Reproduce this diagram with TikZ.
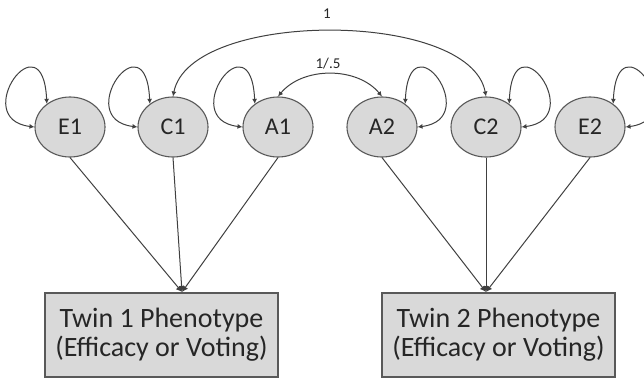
\documentclass[tikz,border=0pt]{standalone}
\usepackage{fontspec}
\setmainfont{Carlito}
\usetikzlibrary{shapes.geometric,arrows.meta}
\definecolor{nodefill}{HTML}{D9D9D9}
\definecolor{edgecol}{HTML}{595959}
\definecolor{linecol}{HTML}{404040}
\definecolor{txtcol}{HTML}{262626}
\begin{document}
\begin{tikzpicture}[x=1pt,y=-1pt,
  latent/.style={ellipse, draw=edgecol, fill=nodefill, line width=1.1pt, minimum width=70pt, minimum height=60pt, inner sep=0pt, font=\fontsize{24}{26}\selectfont, text=txtcol},
  pheno/.style={rectangle, draw=edgecol, fill=nodefill, line width=1.1pt, minimum width=233pt, minimum height=84pt, align=center, font=\fontsize{28}{29}\selectfont, text=txtcol},
  conn/.style={draw=linecol, line width=1pt},
  tip/.style={-{Latex[length=6pt,width=6pt]}},
  dbl/.style={{Latex[length=5pt,width=5pt]}-{Latex[length=5pt,width=5pt]}},
  lbl/.style={font=\fontsize{15}{17}\selectfont, text=txtcol, inner sep=1pt}
]
\useasboundingbox (0,0) rectangle (644,378);

\node[latent] (E1) at (70,127) {E1};
\node[latent] (C1) at (173,127) {C1};
\node[latent] (A1) at (278,127) {A1};
\node[latent] (A2) at (382,127) {A2};
\node[latent] (C2) at (486,127) {C2};
\node[latent] (E2) at (590,127) {E2};

\node[pheno] (P1) at (161.5,335) {Twin 1 Phenotype\\(Efficacy or Voting)};
\node[pheno] (P2) at (498.5,335) {Twin 2 Phenotype\\(Efficacy or Voting)};

\coordinate (j1) at (182,292);
\coordinate (j2) at (486,292);

% variance loops
\foreach \n in {E1,C1,A1}{
  \draw[conn,dbl] (\n.west) .. controls +(-66,-8) and +(-4,-88) .. (\n.135);
}
\foreach \n in {A2,C2,E2}{
  \draw[conn,dbl] (\n.east) .. controls +(66,-8) and +(4,-88) .. (\n.45);
}

% covariances
\draw[conn,dbl] (C1.north) .. controls +(17,-87) and +(-16,-87) .. (C2.north);
\draw[conn,dbl] (A1.north) .. controls +(25,-30) and +(-25,-30) .. (A2.north);
\node[lbl] (l1) at (327,14) {1};
\node[lbl] (l2) at (328,64) {1/.5};

% paths to phenotypes
\foreach \n in {E1,C1,A1}{
  \draw[conn,tip] (\n.south) -- (j1);
}
\foreach \n in {A2,C2,E2}{
  \draw[conn,tip] (\n.south) -- (j2);
}
\end{tikzpicture}
\end{document}
